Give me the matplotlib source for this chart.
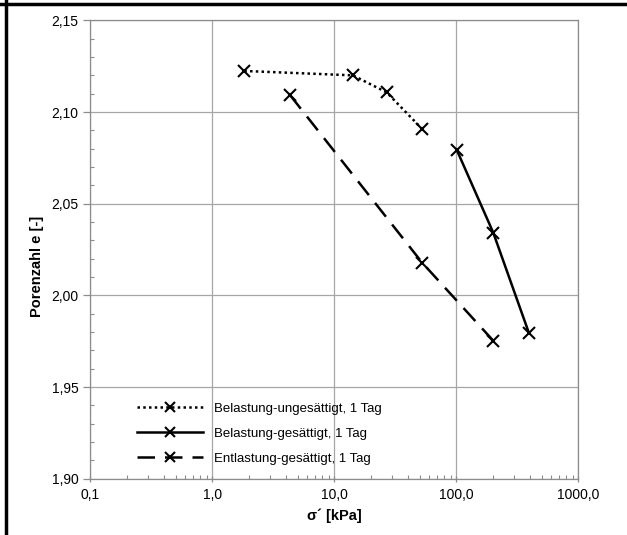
import matplotlib
matplotlib.use("Agg")
import matplotlib.pyplot as plt
from matplotlib.ticker import FixedLocator, NullFormatter
from matplotlib.lines import Line2D
import numpy as np

plt.rcParams['font.family'] = ['Liberation Sans', 'DejaVu Sans']

# Data
s1_label = "Belastung-ungesättigt, 1 Tag"
s1_x = [1.83, 14.2, 26.9, 52.6]
s1_y = [2.1224, 2.1200, 2.1107, 2.0907]

s2_label = "Belastung-gesättigt, 1 Tag"
s2_x = [101, 201, 394]
s2_y = [2.0793, 2.0342, 1.9795]

s3_label = "Entlastung-gesättigt, 1 Tag"
s3_x = [4.33, 52.6, 201]
s3_y = [2.1093, 2.0178, 1.9753]

x_ticks = [0.1, 1, 10, 100, 1000]
x_tick_labels = ["0,1", "1,0", "10,0", "100,0", "1000,0"]
y_ticks = [1.90, 1.95, 2.00, 2.05, 2.10, 2.15]
y_tick_labels = ["1,90", "1,95", "2,00", "2,05", "2,10", "2,15"]

fig = plt.figure(figsize=(6.27, 5.35), dpi=100)
ax = fig.add_axes([0.1440, 0.105, 0.9223 - 0.1440, 0.962 - 0.105])

ax.set_xscale('log')
ax.set_xlim(0.1, 1000)
ax.set_ylim(1.90, 2.15)

mk = dict(marker='x', markersize=9, markeredgewidth=1.5, color='black')
ax.plot(s1_x, s1_y, linestyle=(0, (1, 1.3)), linewidth=1.8, label=s1_label, **mk)
ax.plot(s2_x, s2_y, linestyle='-', linewidth=1.8, label=s2_label, **mk)
ax.plot(s3_x, s3_y, linestyle=(0, (7, 4)), linewidth=1.8, label=s3_label, **mk)

ax.xaxis.set_major_locator(FixedLocator(x_ticks))
ax.set_xticklabels(x_tick_labels)
ax.xaxis.set_minor_locator(FixedLocator([m * 10.0**e for e in range(-1, 3) for m in range(2, 10)]))
ax.xaxis.set_minor_formatter(NullFormatter())
ax.yaxis.set_major_locator(FixedLocator(y_ticks))
ax.set_yticklabels(y_tick_labels)
ax.yaxis.set_minor_locator(FixedLocator(np.arange(1.90, 2.1501, 0.01)))

ax.grid(True, which='major', color='#a6a6a6', linewidth=0.9)
ax.set_axisbelow(True)
for sp in ax.spines.values():
    sp.set_color('#8c8c8c')
    sp.set_linewidth(0.9)

ax.tick_params(axis='both', which='major', labelsize=10, color='#8c8c8c', length=5, width=0.9)
ax.tick_params(axis='y', which='major', direction='out')
ax.tick_params(axis='x', which='major', direction='inout', pad=4)
ax.tick_params(axis='both', which='minor', direction='in', length=3, color='#8c8c8c', width=0.8)

ax.set_xlabel("σ´ [kPa]", fontsize=10.5, fontweight='bold', labelpad=5)
ax.set_ylabel("Porenzahl e [-]", fontsize=10.5, fontweight='bold')
ax.yaxis.set_label_coords(-0.094, 0.463)

leg = ax.legend(loc='lower left', bbox_to_anchor=(0.072, 0.005), frameon=False, fontsize=9.5,
                handlelength=5.0, numpoints=1, labelspacing=0.95, handletextpad=0.8,
                markerscale=0.8)

# Border lines (table cell edges)
fig.add_artist(Line2D([0, 1], [1 - 3.5/535, 1 - 3.5/535], transform=fig.transFigure, color='black', linewidth=2.5))
fig.add_artist(Line2D([5.5/627, 5.5/627], [0, 1], transform=fig.transFigure, color='black', linewidth=2.5))

fig.savefig("out.png", dpi=100)
